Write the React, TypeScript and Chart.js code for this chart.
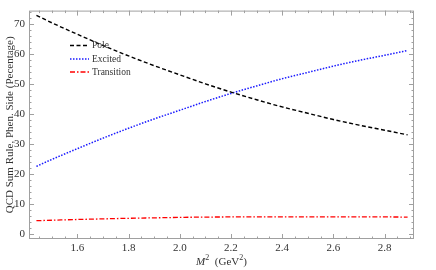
import React, { useEffect, useRef } from "react";
import { Chart, registerables } from "chart.js";

Chart.register(...registerables);

const mSquared = [1.44, 1.5, 1.6, 1.7, 1.8, 1.9, 2.0, 2.1, 2.2, 2.3, 2.4, 2.5, 2.6, 2.7, 2.8, 2.89];
const poleValues = [72.9, 70.45, 66.6, 62.9, 59.4, 56.15, 53.1, 50.1, 47.35, 44.8, 42.4, 40.3, 38.2, 36.35, 34.65, 33.1];
const excitedValues = [22.6, 24.9, 28.5, 32.0, 35.3, 38.4, 41.3, 44.2, 46.9, 49.4, 51.8, 53.9, 56.0, 57.9, 59.6, 61.2];
const transitionValues = [4.5, 4.65, 4.9, 5.1, 5.3, 5.45, 5.6, 5.7, 5.75, 5.8, 5.8, 5.8, 5.8, 5.75, 5.75, 5.7];

const xTickValues = [1.6, 1.8, 2.0, 2.2, 2.4, 2.6, 2.8];
const yTickValues = [0, 10, 20, 30, 40, 50, 60, 70];
const seriesLabels = ["Pole", "Excited", "Transition"];

const SERIF = "'Liberation Serif', 'DejaVu Serif', serif";

const framePlugin = {
  id: "mmaFrame",
  beforeDatasetsDraw(chart: any) {
    const { ctx, chartArea } = chart;
    const { left, right, top, bottom } = chartArea;
    const xs = chart.scales.x;
    const ys = chart.scales.y;
    ctx.save();
    ctx.strokeStyle = "#a0a0a0";
    ctx.lineWidth = 1;
    ctx.strokeRect(left + 0.5, top + 0.5, right - left - 1, bottom - top - 1);
    const tick = (x1: number, y1: number, x2: number, y2: number) => {
      ctx.beginPath();
      ctx.moveTo(x1, y1);
      ctx.lineTo(x2, y2);
      ctx.stroke();
    };
    for (let v = 1.45; v <= 2.9001; v += 0.05) {
      const val = Math.round(v * 100) / 100;
      const px = Math.round(xs.getPixelForValue(val)) + 0.5;
      const major = xTickValues.some((t) => Math.abs(t - val) < 1e-6);
      const len = major ? 5 : 2.5;
      tick(px, bottom, px, bottom - len);
      tick(px, top, px, top + len);
    }
    for (let v = 0; v <= 74; v += 2) {
      const py = Math.round(ys.getPixelForValue(v)) + 0.5;
      const major = yTickValues.includes(v);
      const len = major ? 5 : 2.5;
      tick(left, py, left + len, py);
      tick(right, py, right - len, py);
    }
    ctx.restore();
  },
  afterDraw(chart: any) {
    const { ctx, chartArea } = chart;
    ctx.save();
    // legend
    const rows = [45, 58.5, 71.5];
    chart.data.datasets.forEach((ds: any, i: number) => {
      const y = rows[i] + 0.5;
      ctx.strokeStyle = ds.borderColor;
      ctx.lineWidth = ds.borderWidth;
      ctx.setLineDash(ds.borderDash || []);
      ctx.beginPath();
      ctx.moveTo(70, y);
      ctx.lineTo(89, y);
      ctx.stroke();
      ctx.setLineDash([]);
      ctx.fillStyle = "#333";
      ctx.font = "9.5px " + SERIF;
      ctx.textBaseline = "middle";
      ctx.textAlign = "left";
      ctx.fillText(ds.label, 92, y);
    });
    // x-axis title: M^2 (GeV^2)
    const parts = [
      { t: "M", font: "italic 11px " + SERIF, dy: 0 },
      { t: "2", font: "8px " + SERIF, dy: -5 },
      { t: "  (GeV", font: "11px " + SERIF, dy: 0 },
      { t: "2", font: "8px " + SERIF, dy: -5 },
      { t: ")", font: "11px " + SERIF, dy: 0 },
    ];
    let total = 0;
    parts.forEach((p) => {
      ctx.font = p.font;
      total += ctx.measureText(p.t).width;
    });
    let x = (chartArea.left + chartArea.right) / 2 - total / 2;
    const baseY = 265;
    ctx.fillStyle = "#333";
    ctx.textBaseline = "alphabetic";
    ctx.textAlign = "left";
    parts.forEach((p) => {
      ctx.font = p.font;
      ctx.fillText(p.t, x, baseY + p.dy);
      x += ctx.measureText(p.t).width;
    });
    ctx.restore();
  },
};

export default function App() {
  const canvasRef = useRef<HTMLCanvasElement | null>(null);

  useEffect(() => {
    if (!canvasRef.current) return;
    const toPts = (arr: number[]) => arr.map((y, i) => ({ x: mSquared[i], y }));
    const chart = new Chart(canvasRef.current, {
      type: "line",
      data: {
        datasets: [
          {
            label: seriesLabels[0],
            data: toPts(poleValues),
            borderColor: "#000000",
            borderWidth: 1.4,
            borderDash: [4, 2.5],
            pointRadius: 0,
            cubicInterpolationMode: "monotone",
            fill: false,
          },
          {
            label: seriesLabels[1],
            data: toPts(excitedValues),
            borderColor: "#1a1aff",
            borderWidth: 1.5,
            borderDash: [1.5, 1.5],
            pointRadius: 0,
            cubicInterpolationMode: "monotone",
            fill: false,
          },
          {
            label: seriesLabels[2],
            data: toPts(transitionValues),
            borderColor: "#ff0000",
            borderWidth: 1.3,
            borderDash: [5, 2, 1.5, 2],
            pointRadius: 0,
            cubicInterpolationMode: "monotone",
            fill: false,
          },
        ],
      } as any,
      options: {
        responsive: false,
        animation: false,
        layout: { padding: { left: 0, right: 22, top: 1, bottom: 0 } },
        plugins: { legend: { display: false }, tooltip: { enabled: false } },
        scales: {
          x: {
            type: "linear",
            min: 1.411,
            max: 2.915,
            grid: { display: false, drawTicks: false, tickLength: 0 },
            border: { display: false },
            afterBuildTicks: (s: any) => {
              s.ticks = xTickValues.map((v) => ({ value: v }));
            },
            afterFit: (s: any) => {
              s.height = 31;
            },
            ticks: {
              padding: 3,
              color: "#333",
              font: { family: SERIF, size: 11 },
              callback: (v: any) => Number(v).toFixed(1),
              maxRotation: 0,
              autoSkip: false,
            },
            title: { display: false },
          },
          y: {
            type: "linear",
            min: -1.6,
            max: 74.5,
            grid: { display: false, drawTicks: false, tickLength: 0 },
            border: { display: false },
            afterBuildTicks: (s: any) => {
              s.ticks = yTickValues.map((v) => ({ value: v }));
            },
            afterFit: (s: any) => {
              s.width = 29;
            },
            ticks: {
              padding: 4,
              color: "#333",
              font: { family: SERIF, size: 11 },
              autoSkip: false,
            },
            title: {
              display: true,
              text: "QCD Sum Rule, Phen. Side (Pecentage)",
              color: "#333",
              font: { family: SERIF, size: 11 },
              padding: { top: 4, bottom: 4 },
            },
          },
        },
      },
      plugins: [framePlugin],
    });
    return () => chart.destroy();
  }, []);

  return (
    <canvas
      ref={canvasRef}
      width={436}
      height={270}
      style={{ position: "fixed", left: 0, top: 0, width: 436, height: 270, display: "block" }}
    />
  );
}
